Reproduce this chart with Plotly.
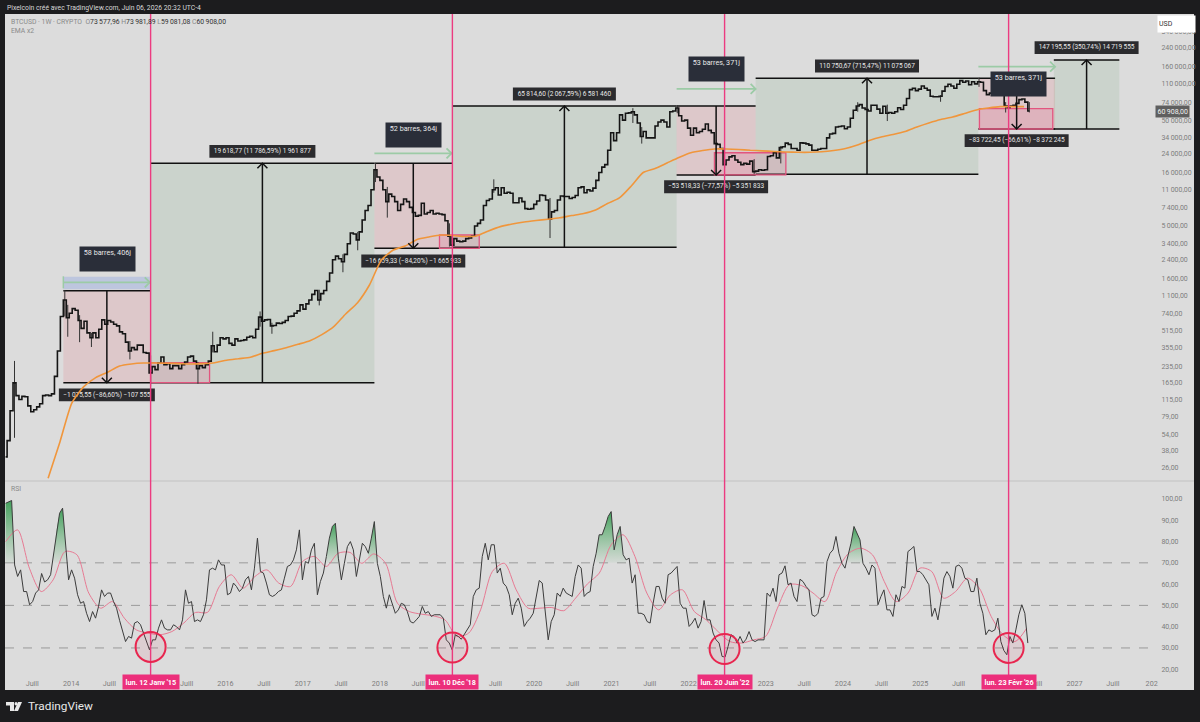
"""BTCUSD weekly with cycle boxes and an RSI pane, TradingView look."""
import re
from math import log10

import numpy as np
import pandas as pd
import plotly.graph_objects as go

PANEL = "#dcdcdc"
FRAME = "#1c1c1e"
TICK = "#7d7d7d"
PINK = "#ec3b80"
LABEL_BG = "#2b2b2e"
BAR_BG = "#2a2e39"
FONT = "Roboto, Open Sans, sans-serif"
W, H = 1200, 722

# closes read every two weeks, from 2013-02-25
close = [
    33, 47, 90, 165, 125, 115, 123, 122, 100, 88, 92, 98, 105, 125, 127, 125, 130, 190, 330, 700, 1000, 680, 750,
    830, 800, 640, 540, 630, 490, 440, 490, 440, 530, 650, 590, 640, 620, 590, 570, 500, 480, 400, 330, 355, 340, 375, 375, 320, 315,
    205, 235, 220, 255, 290, 245, 250, 225, 240, 240, 225, 245, 260, 290, 295, 265, 225, 240, 230, 245, 265, 370, 325, 375, 440, 430,
    440, 390, 375, 430, 410, 415, 420, 445, 455, 440, 530, 690, 630, 650, 655, 570, 575, 605, 600, 615, 640, 700, 705, 750, 790, 900,
    820, 920, 1000, 1130, 1230, 1000, 1150, 1230, 1500, 1800, 2400, 2600, 2450, 2300, 2700, 3400, 4300, 4200, 3700, 4400, 5700, 7000, 7800, 11000, 17000, 14500,
    13500, 11000, 8500, 10000, 9500, 8500, 7000, 8000, 9000, 8500, 7500, 6700, 6200, 6300, 8200, 6500, 6700, 7000, 6500, 6600, 6500, 6400, 5600, 4000, 3300, 3800,
    3600, 3550, 3600, 3800, 3850, 4000, 5000, 5300, 5700, 7800, 8700, 9000, 11000, 11500, 9800, 11500, 10200, 10400, 10200, 8300, 8300, 9200, 8500, 7300, 7200, 7300,
    8000, 8600, 9800, 9700, 8800, 5800, 6800, 7000, 8800, 9600, 9500, 9500, 9100, 9300, 9700, 11500, 11700, 10300, 11000, 10700, 11400, 13500, 16000, 18000, 19000, 26000,
    38000, 32000, 38000, 56000, 50000, 58000, 58500, 60000, 56000, 47000, 35000, 39000, 34000, 34000, 34000, 44000, 48000, 50000, 48000, 43000, 60000, 61000, 65000, 55000, 49000, 50000,
    42000, 36000, 42000, 38000, 39000, 41000, 46000, 40000, 38000, 30000, 29500, 27000, 19000, 21000, 22500, 23000, 21000, 20000, 19000, 19500, 19200, 20500, 16300, 16500, 17000, 16800,
    17000, 22700, 23000, 24600, 22000, 27500, 28000, 30300, 29500, 27000, 27000, 26000, 30500, 30300, 29800, 29000, 26000, 26000, 26500, 27000, 27000, 34000, 37000, 37500, 43000, 43500,
    44000, 41500, 43000, 52000, 62000, 68000, 70000, 65000, 63000, 61000, 69000, 69000, 63500, 58000, 67500, 58000, 59000, 58000, 60000, 65500, 63000, 69000, 80000, 97000, 100000, 95000, 98000,
    105000, 100000, 96000, 84000, 83000, 83000, 84000, 94000, 104000, 109000, 105000, 100000, 109000, 118000, 114000, 117000, 108000, 115000, 110000, 115000, 114000, 95000, 87000, 90000, 88000, 88000,
    90000, 88000, 68000, 66000, 68000, 69000, 72000, 78000, 79000, 74000, 60908,
]

wick_dates = ["2013-04-08", "2013-12-02", "2013-12-16", "2014-02-10", "2014-04-07", "2014-10-06", "2015-01-12",
              "2015-08-24", "2015-11-02", "2016-06-13", "2016-08-08", "2017-03-20", "2017-07-10", "2017-09-18",
              "2017-12-11", "2018-02-05", "2018-11-26", "2018-12-10", "2019-06-24", "2020-03-16", "2021-04-12",
              "2021-05-24", "2021-11-08", "2022-06-20", "2022-11-07", "2023-03-13", "2024-03-11", "2024-07-29",
              "2025-04-07", "2025-10-06", "2026-02-09", "2026-06-01"]
wick_high = [266, 1242, 900, 720, 490, 410, 300, 260, 502, 780, 610, 1250, 2700, 4400, 19700, 11700, 5300, 3600,
             13800, 9200, 64800, 43000, 69000, 21000, 21400, 28500, 73800, 70000, 86000, 126000, 73900, 73981]
wick_low = [50, 700, 450, 400, 360, 275, 152, 162, 320, 560, 480, 890, 1830, 2950, 13000, 6000, 3200, 3122,
            10300, 3850, 47000, 30000, 58000, 17600, 15500, 19500, 60000, 49000, 74500, 103000, 59000, 59081]

ema = [
    20.8, 46, 107, 152, 185, 208, 238, 249, 254, 254, 253, 251, 249, 251, 256, 270, 279, 288, 314, 333, 355, 382, 413,
    471, 560, 738, 944, 1387, 2388, 2965, 3236, 3733, 3940, 4110, 4066, 3977, 4027, 4486, 4932, 5226, 5458, 5636, 5794,
    5984, 6281, 6561, 7079, 8166, 9204, 11940, 16000, 17460, 19680, 22180, 24600, 25820, 26670, 26670, 26400, 25940,
    25640, 25290, 25000, 24830, 24830, 25120, 25820, 26980, 29110, 32140, 34670, 36560, 38990, 43050, 46990, 50700,
    53460, 57680, 62370, 65010, 66990, 66990, 66990,
]

rsi = [
    98, 98.7, 99.3, 69, 63.6, 66.7, 56.5, 56.5, 50.3, 51.8,
    55.8, 57.3, 65, 61, 62, 64.4, 73.8, 85.5, 93.3, 95.7,
    78.5, 62, 66.7, 62.8, 55, 51, 51.8, 46.3, 42.4, 47.1,
    44, 49.5, 57.3, 54.2, 55.8, 55.8, 51.8, 48.7, 43, 38.5,
    33, 35.4, 34.6, 41.7, 42.4, 40.9, 37, 33, 29.1, 33.8,
    33.8, 39.3, 43.2, 39.3, 38.5, 38.5, 40.9, 40, 38.5, 43.2,
    57.3, 51, 51.8, 42.4, 43.2, 42.4, 45.6, 52.6, 66.7, 67.5,
    66.7, 71.4, 69, 69, 55, 55.8, 60.5, 58.9, 56.5, 58.1,
    62, 63.6, 57.3, 67.5, 81.6, 65.9, 65.2, 60.5, 55, 54.2,
    55, 56.5, 57.3, 62.8, 68.3, 69, 71.4, 76.1, 85.5, 62,
    70.6, 69.8, 76.1, 79.2, 55, 61.2, 65.2, 73, 81.6, 87.1,
    88.6, 72.2, 62, 69.8, 77.6, 80, 76.1, 63.6, 71.4, 79.2,
    77.6, 74.5, 81.6, 89.4, 69.8, 63.6, 54.2, 48.7, 55, 51,
    46.3, 47.9, 51, 50.3, 47.1, 42.4, 41.7, 43.2, 44.8, 49.5,
    46.3, 47.1, 44.8, 45.6, 45.6, 45.6, 44, 33.8, 32.3, 29,
    36.2, 35.4, 34.1, 36.2, 38.5, 40.9, 54.2, 57.3, 58.1, 73,
    79.2, 71.4, 78.5, 78.5, 65.2, 67.5, 60.5, 58.9, 55, 45.6,
    51, 53.4, 48.7, 40.1, 42.4, 44, 46.3, 55, 61.7, 60.5,
    47.1, 33.8, 42.4, 45.6, 55.8, 54.2, 58.1, 55.8, 55, 54.2,
    63.6, 69, 67.5, 54.2, 55.8, 56.5, 68.3, 74.5, 83.2, 83.2,
    87.1, 91.8, 94.1, 76.1, 83.2, 87.1, 73.8, 71.4, 72.2, 60.5,
    64.4, 46.3, 46.3, 45.6, 42.4, 41.7, 51, 58.9, 58.9, 53.4,
    51, 64.4, 65.2, 66.7, 68.3, 51, 48.7, 48.7, 40.1, 41.7,
    44, 39.3, 42.4, 52.3, 43.2, 43.2, 37, 33.8, 32.3, 26,
    25.7, 30.7, 36.2, 35.4, 32.3, 35.4, 32.3, 34.1, 37.7, 33.8,
    33, 33.8, 33.8, 33.8, 55.8, 54.2, 58.1, 51.8, 64.4, 65.2,
    68.6, 59.7, 60.5, 54.2, 51.8, 62.3, 61.2, 58.9, 57.3, 45.6,
    44.8, 46.3, 53.4, 54.2, 70.6, 74.5, 76.1, 82.4, 74.5, 69.8,
    67.5, 73, 79.2, 87.1, 83.9, 80.8, 69.8, 67.5, 64.4, 69,
    67.5, 50.3, 54.2, 57.3, 47.9, 47.9, 44.8, 55, 51.8, 58.9,
    58.1, 75.3, 76.4, 77.7, 65.9, 65.9, 64.4, 62, 59.7, 44.8,
    48.7, 43.2, 51.8, 62.8, 65.9, 63.6, 58.1, 68.3, 69, 67.5,
    62.8, 62, 56.5, 56.5, 62.8, 51, 46.3, 36.2, 38.5, 37.7,
    38.5, 44, 33, 28.8, 26.8, 35.4, 32.3, 38.5, 45.6, 50.3,
    46.3, 32.3,
]

rsi_ma = [
    80, 85.5, 67.5, 56.5, 62, 75.3, 73.8, 55.8, 48.7, 51.8, 44, 38.5, 37, 36.2, 37.7, 41.7, 46.7, 46.7, 58.9, 64.4,
    58.1, 63.6, 66.7, 60.5, 58.9, 70.6, 73, 68.3, 74.5, 74.9, 69.8, 74.2, 69.8, 51, 47.1, 45.9, 45.1, 43.2, 35.4, 37,
    47.9, 66, 69.8, 57.3, 48.7, 48.7, 49, 47.5, 53.4, 60.1, 65.2, 78.5, 83.2, 73, 55.8, 47.9, 55, 57.3, 47.1, 43.2,
    37.7, 33, 32.3, 33.8, 35.4, 48.7, 59.7, 59.4, 55.8, 51.8, 65.9, 74.5, 76.9, 73.8, 61.2, 51.8, 55.8, 67.5, 65.9,
    53.4, 56.5, 62.8, 58.1, 44.8, 36.2, 33, 39.3,
]

# index ranges of the RSI that carry the green fill
green_spans = [(0, 3), (16, 20), (107, 111), (121, 124), (197, 207), (281, 286)]

box_start = ["2013-11-25", "2015-01-12", "2017-12-06", "2018-12-10", "2021-11-05", "2022-11-14", "2025-10-03", "2026-09-25"]
box_end = ["2015-01-12", "2017-12-06", "2018-12-10", "2021-11-05", "2022-11-14", "2025-10-03", "2026-10-01", "2027-08-01"]
box_low = [165.7, 165.7, 3080, 3148, 15170, 15390, 41210, 41210]
box_high = [1225, 19550, 19550, 67950, 67950, 124150, 124150, 184800]
box_up = [False, True, False, True, False, True, False, True]
box_text = [
    "−1 075,55 (−86,60%) −107 555", "19 618,77 (11 786,59%) 1 961 877",
    "−16 659,33 (−84,20%) −1 665 933", "65 814,60 (2 067,59%) 6 581 460",
    "−53 518,33 (−77,57%) −5 351 833", "110 750,67 (715,47%) 11 075 067",
    "−83 722,45 (−66,61%) −8 372 245", "147 195,55 (350,74%) 14 719 555",
]
box_text_price = [127, 25300, 2338, 88300, 11750, 162200, 31990, 241500]
box_text_width = [96, 106, 104, 103, 104, 104, 104, 104]
# a label is 13 px tall: about 15% in price either way on this log scale
label_ratio = 1.15

zone_start = ["2015-01-12", "2018-10-10", "2022-05-03", "2025-10-08"]
zone_end = ["2015-10-18", "2019-04-16", "2023-04-06", "2026-09-20"]
zone_low = [165.7, 3080, 15170, 41210]
zone_high = [256, 4111, 24600, 64100]

bars_text = ["58 barres, 406j", "52 barres, 364j", "53 barres, 371j", "53 barres, 371j"]
bars_date = ["2014-06-20", "2018-06-08", "2022-05-15", "2026-04-10"]
bars_price = [2443, 36300, 151000, 109650]
span_start = ["2013-11-25", "2017-12-06", "2021-11-05", "2025-10-03"]
span_end = ["2015-01-08", "2018-12-06", "2022-11-14", "2026-10-01"]
span_price = [1470, 24300, 98400, 159700]

lows_date = ["2015-01-12", "2018-12-10", "2022-06-20", "2026-02-23"]
lows_text = ["lun. 12 Janv '15", "lun. 10 Déc '18", "lun. 20 Juin '22", "lun. 23 Févr '26"]
circle_rsi = [30.5, 30.2, 29.5, 30]

x_tick_vals = ["2013-07-01", "2014-01-01", "2014-07-01", "2015-07-01", "2016-01-01", "2016-07-01", "2017-01-01",
               "2017-07-01", "2018-01-01", "2018-07-01", "2019-07-01", "2020-01-01", "2020-07-01", "2021-01-01",
               "2021-07-01", "2022-01-01", "2023-01-01", "2023-07-01", "2024-01-01", "2024-07-01", "2025-01-01",
               "2025-07-01", "2026-07-01", "2027-01-01", "2027-07-01", "2028-01-01"]
x_tick_text = ["Juill", "2014", "Juill", "Juill", "2016", "Juill", "2017", "Juill", "2018", "Juill", "Juill", "2020",
               "Juill", "2021", "Juill", "2022", "2023", "Juill", "2024", "Juill", "2025", "Juill", "Juill", "2027",
               "Juill", "202"]
price_ticks = [340000, 240000, 160000, 110000, 74000, 50000, 34000, 24000, 16000, 11000, 7400, 5000, 3400, 2400,
               1600, 1100, 740, 515, 355, 235, 165, 115, 79, 54, 38, 26]
rsi_ticks = [20, 30, 40, 50, 60, 70, 80, 90, 100]
rsi_levels = [70, 50, 30]


def px(x):
    return x / W


def py(y):
    return 1 - y / H


def money(v):
    return f"{v:,.2f}".replace(",", "\u2009").replace(".", ",")


def thin(text):
    return re.sub(r"(?<=\d) (?=\d)", "\u2009", text)


def mid(a, b):
    a, b = pd.Timestamp(a), pd.Timestamp(b)
    return (a + (b - a) / 2).strftime("%Y-%m-%d")


def paper_text(x, y, text, size=7, color="#555", **kw):
    fig.add_annotation(xref="paper", yref="paper", x=px(x), y=py(y), text=text, showarrow=False,
                       xanchor=kw.pop("xanchor", "left"), yanchor="middle",
                       font={"family": FONT, "size": size, "color": color}, **kw)


def head(x, y, path, color, width):
    # open V arrow head, sized in pixels around its tip
    fig.add_shape(type="path", xref="x", yref="y", xsizemode="pixel", ysizemode="pixel", xanchor=x, yanchor=y,
                  path=path, line={"color": color, "width": width}, layer="above")


price_dates = pd.date_range("2013-02-25", periods=len(close), freq="14D")
rsi_dates = pd.date_range("2013-02-25", "2026-05-25", periods=len(rsi)).round("s")
ma_dates = pd.date_range("2013-02-25", "2026-05-20", periods=len(rsi_ma)).round("s")
ema_dates = pd.date_range("2013-09-14", "2026-05-07", periods=len(ema)).round("s")

fig = go.Figure()

# price labels sit under the lines, the library's annotations cannot
fig.add_trace(go.Scatter(
    x=[mid(a, b) for a, b in zip(box_start, box_end)], y=box_text_price, text=[thin(t) for t in box_text],
    mode="text", textposition="middle center", textfont={"family": FONT, "size": 6.5, "color": "#e8e8e8"},
    xaxis="x", yaxis="y", cliponaxis=False,
))

wx, wy = [], []
for d, hi, lo in zip(wick_dates, wick_high, wick_low):
    wx += [d, d, None]
    wy += [lo, hi, None]
fig.add_trace(go.Scatter(x=wx, y=wy, mode="lines", line={"color": "#333", "width": 1}, xaxis="x", yaxis="y"))
fig.add_trace(go.Scatter(x=price_dates, y=close, mode="lines", line={"color": "#151515", "width": 1.6, "shape": "hvh"},
                         xaxis="x", yaxis="y"))
fig.add_trace(go.Scatter(x=ema_dates, y=ema, mode="lines",
                         line={"color": "#f0963c", "width": 1.6, "shape": "spline", "smoothing": 0.6},
                         xaxis="x", yaxis="y"))

for i0, i1 in green_spans:
    sx = list(rsi_dates[i0:i1 + 1])
    sy = np.maximum(rsi[i0:i1 + 1], 70).tolist()
    fig.add_trace(go.Scatter(
        x=sx + sx[::-1], y=sy + [70] * len(sx), mode="lines", line={"width": 0}, fill="toself",
        fillgradient={"type": "vertical", "colorscale": [[0, "rgba(70,170,90,0.05)"], [1, "rgba(40,150,70,0.85)"]]},
        xaxis="x", yaxis="y2",
    ))
fig.add_trace(go.Scatter(x=ma_dates, y=rsi_ma, mode="lines",
                         line={"color": "#e77a93", "width": 1, "shape": "spline", "smoothing": 0.8},
                         xaxis="x", yaxis="y2"))
fig.add_trace(go.Scatter(x=rsi_dates, y=rsi, mode="lines", line={"color": "#3c3c3c", "width": 1},
                         xaxis="x", yaxis="y2"))

# panel and pane separator
fig.add_shape(type="rect", xref="paper", yref="paper", x0=px(5), x1=px(1194), y0=py(690), y1=py(14),
              fillcolor=PANEL, line_width=0, layer="below")
fig.add_shape(type="line", xref="paper", yref="paper", x0=px(5), x1=px(1194), y0=py(481), y1=py(481),
              line={"color": "#c2c2c2", "width": 1}, layer="below")

for lvl in rsi_levels:
    fig.add_shape(type="line", xref="x", yref="y2", x0="2013-02-22", x1="2028-01-12", y0=lvl, y1=lvl,
                  line={"color": "#9a9a9a", "width": 1, "dash": "dash"}, layer="below")

for s, e, lo, hi, up, lab_price, lab_w in zip(box_start, box_end, box_low, box_high, box_up,
                                              box_text_price, box_text_width):
    fill = "rgba(70,150,80,0.11)" if up else "rgba(240,50,60,0.11)"
    fig.add_shape(type="rect", xref="x", yref="y", x0=s, x1=e, y0=lo, y1=hi, fillcolor=fill, line_width=0,
                  layer="below")
    for level in (lo, hi):
        fig.add_shape(type="line", xref="x", yref="y", x0=s, x1=e, y0=level, y1=level,
                      line={"color": "#111", "width": 1.5}, layer="below")
    m = mid(s, e)
    fig.add_shape(type="line", xref="x", yref="y", x0=m, x1=m, y0=lo, y1=hi,
                  line={"color": "#111", "width": 1.5}, layer="above")
    if up:
        head(m, hi, "M -5 -5 L 0 0 L 5 -5", "#111", 1.5)
    else:
        head(m, lo, "M -5 5 L 0 0 L 5 5", "#111", 1.5)
    fig.add_shape(type="rect", xref="x", yref="y", xsizemode="pixel", xanchor=m, x0=-lab_w / 2, x1=lab_w / 2,
                  y0=lab_price / label_ratio, y1=lab_price * label_ratio, fillcolor=LABEL_BG, line_width=0,
                  layer="below")

for s, e, lo, hi in zip(zone_start, zone_end, zone_low, zone_high):
    fig.add_shape(type="rect", xref="x", yref="y", x0=s, x1=e, y0=lo, y1=hi, fillcolor="rgba(236,60,110,0.14)",
                  line={"color": "#e2557f", "width": 1.3}, layer="below")

# blue band over the first range only
fig.add_shape(type="rect", xref="x", yref="y", x0=span_start[0], x1=span_end[0], y0=1262, y1=1660,
              fillcolor="rgba(120,150,230,0.3)", line_width=0, layer="below")
head(span_start[0], span_price[0], "M 0 6 L 0 -6", "#9ccba6", 1.5)
for s, e, p in zip(span_start, span_end, span_price):
    fig.add_shape(type="line", xref="x", yref="y", x0=s, x1=e, y0=p, y1=p,
                  line={"color": "#9ccba6", "width": 1.8}, layer="above")
    head(e, p, "M -5 5 L 0 0 L -5 -5", "#9ccba6", 1.8)

for d, v, label in zip(lows_date, circle_rsi, lows_text):
    fig.add_shape(type="line", xref="x", yref="paper", x0=d, x1=d, y0=py(675), y1=py(14),
                  line={"color": PINK, "width": 1.4}, layer="above")
    fig.add_shape(type="circle", xref="x", yref="y2", xsizemode="pixel", ysizemode="pixel", xanchor=d, yanchor=v,
                  x0=-15, x1=15, y0=-15, y1=15, fillcolor="rgba(230,50,90,0.08)",
                  line={"color": "#e8264f", "width": 2}, layer="above")
    fig.add_annotation(xref="x", yref="paper", x=d, y=py(681.5), text=f"<b>{label}</b>",
                       showarrow=False, bgcolor="#ec2f7b", borderpad=2.5, yanchor="middle", xanchor="center",
                       font={"family": FONT, "size": 7.2, "color": "#fff"})

for t, d, p in zip(bars_text, bars_date, bars_price):
    fig.add_annotation(xref="x", yref="y", x=d, y=log10(p), text=t, showarrow=False, bgcolor=BAR_BG, width=53,
                       height=22, valign="top", align="center", borderpad=1,
                       font={"family": FONT, "size": 7.2, "color": "#e8e8e8"})

paper_text(5, 8, "Pixelcoin créé avec TradingView.com, Juin 06, 2026 20:32 UTC-4", size=6.8, color="#d8d8d8")
paper_text(9, 22, '<span style="color:#8a8a8a">BTCUSD · 1W · CRYPTO  O</span>73\u2009577,96 '
                  '<span style="color:#8a8a8a">H</span>73\u2009981,89 <span style="color:#8a8a8a">L</span>59\u2009081,08 '
                  '<span style="color:#8a8a8a">C</span>60\u2009908,00', size=6.8, color="#333")
paper_text(9, 31, "EMA x2", size=6.8, color="#8a8a8a")
paper_text(9, 489, "RSI", size=6.8, color="#8a8a8a")
paper_text(26, 706, "TradingView", size=11.8, color="#e8e8e8")

fig.add_annotation(xref="paper", yref="paper", x=px(1157), y=py(24), text="USD", showarrow=False, xanchor="left",
                   yanchor="middle", bgcolor="#ffffff", width=35, height=14, align="left",
                   font={"family": FONT, "size": 7, "color": "#333"})
fig.add_annotation(xref="paper", yref="y", x=px(1155), y=log10(close[-1]), text=money(close[-1]), showarrow=False,
                   xanchor="left", yanchor="middle", bgcolor="#5f5f5f", borderpad=1.5,
                   font={"family": FONT, "size": 7, "color": "#f2f2f2"})

# logo
fig.add_shape(type="path", xref="paper", yref="paper", fillcolor="#e8e8e8", line_width=0,
              path=f"M {px(6)} {py(702)} L {px(14)} {py(702)} L {px(14)} {py(711)} L {px(10)} {py(711)} "
                   f"L {px(10)} {py(705.5)} L {px(6)} {py(705.5)} Z")
fig.add_shape(type="circle", xref="paper", yref="paper", x0=px(14.5), x1=px(17.5), y0=py(705.5), y1=py(702),
              fillcolor="#e8e8e8", line_width=0)
fig.add_shape(type="path", xref="paper", yref="paper", fillcolor="#e8e8e8", line_width=0,
              path=f"M {px(18)} {py(702)} L {px(22)} {py(702)} L {px(18)} {py(711)} L {px(14)} {py(711)} Z")

fig.update_layout(
    width=W, height=H, margin={"l": 0, "r": 0, "t": 0, "b": 0, "autoexpand": False}, autosize=False,
    paper_bgcolor=FRAME, plot_bgcolor="rgba(0,0,0,0)", showlegend=False, hovermode=False,
    font={"family": FONT, "size": 7, "color": TICK},
    xaxis={"domain": [px(5), px(1154)], "anchor": "y2", "type": "date", "range": ["2013-02-22", "2028-01-12"],
           "tickmode": "array", "tickvals": x_tick_vals, "ticktext": x_tick_text, "showgrid": False,
           "zeroline": False, "showline": False, "ticks": "outside", "ticklen": 2, "tickcolor": "rgba(0,0,0,0)",
           "tickangle": 0, "tickfont": {"family": FONT, "size": 7.2, "color": TICK}},
    yaxis={"domain": [py(481), py(14)], "anchor": "x", "side": "right", "type": "log", "range": [1.291, 5.701],
           "tickmode": "array", "tickvals": price_ticks, "ticktext": [money(v) for v in price_ticks],
           "showgrid": False, "zeroline": False, "showline": False, "ticks": "outside", "ticklen": 5,
           "tickcolor": "rgba(0,0,0,0)", "tickfont": {"family": FONT, "size": 7, "color": TICK}},
    yaxis2={"domain": [py(674), py(482)], "anchor": "x", "side": "right", "range": [17.75, 108],
            "tickmode": "array", "tickvals": rsi_ticks, "ticktext": [money(v) for v in rsi_ticks],
            "showgrid": False, "zeroline": False, "showline": False, "ticks": "outside", "ticklen": 5,
            "tickcolor": "rgba(0,0,0,0)", "tickfont": {"family": FONT, "size": 7, "color": TICK}},
)

fig.write_html("out.html", config={"displayModeBar": False}, post_script="document.body.style.margin='0';")
